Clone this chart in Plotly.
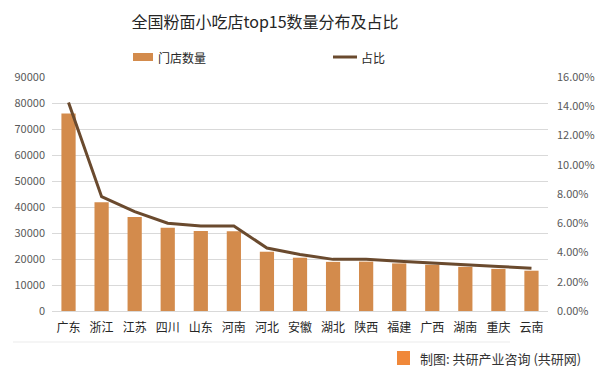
import plotly.graph_objects as go

categories = ["广东", "浙江", "江苏", "四川", "山东", "河南", "河北", "安徽", "湖北", "陕西", "福建", "广西", "湖南", "重庆", "云南"]
store_counts = [76000, 41800, 36200, 32000, 30800, 30700, 22800, 20500, 18900, 19000, 18300, 17800, 17000, 16200, 15500]
share = [0.1425, 0.0782, 0.0679, 0.0600, 0.0581, 0.0581, 0.0431, 0.0387, 0.0353, 0.0353, 0.0340, 0.0330, 0.0317, 0.0305, 0.0292]
left_ticks = list(range(0, 90001, 10000))
right_ticks = [i / 100 for i in range(0, 17, 2)]

W, H = 602, 376
L, R, T, B = 52, 54, 77, 65
PW, PH = W - L - R, H - T - B


def px(x):
    return (x - L) / PW


def py(y):
    return (H - B - y) / PH


BAR_COLOR = "#D38B4C"
LINE_COLOR = "#6A4A2E"

fig = go.Figure()
fig.add_trace(go.Bar(
    x=categories, y=store_counts, name="门店数量",
    marker=dict(color=BAR_COLOR, line=dict(width=0)),
    yaxis="y", showlegend=False,
))
fig.add_trace(go.Scatter(
    x=categories, y=share, name="占比", mode="lines",
    line=dict(color=LINE_COLOR, width=3),
    yaxis="y2", showlegend=False,
))

fig.update_layout(
    width=W, height=H,
    margin=dict(l=L, r=R, t=T, b=B, pad=0, autoexpand=False),
    paper_bgcolor="white", plot_bgcolor="white",
    font=dict(family="Noto Sans CJK SC, Noto Sans, sans-serif", color="#595959", size=11),
    title=dict(text="全国粉面小吃店top15数量分布及占比", x=265 / W, xanchor="center",
               y=1 - 22 / H, yanchor="middle",
               font=dict(size=16, color="#262626")),
    bargap=0.57,
    showlegend=False,
    xaxis=dict(tickfont=dict(size=12, color="#262626"), showgrid=False,
               showline=True, linecolor="#D9D9D9", linewidth=1, ticks="",
               ticklabelstandoff=6),
    yaxis=dict(range=[0, 90000], tickvals=left_ticks, tickformat="d",
               showgrid=True, gridcolor="#D9D9D9", gridwidth=1, zeroline=False,
               showline=False, ticks="", tickfont=dict(size=11, color="#595959"),
               ticklabelstandoff=6),
    yaxis2=dict(range=[0, 0.16], tickvals=right_ticks, tickformat=".2%",
                overlaying="y", side="right", showgrid=False, zeroline=False,
                showline=False, ticks="", tickfont=dict(size=11, color="#595959"),
                ticklabelstandoff=8),
)

# manual legend
fig.add_shape(type="rect", xref="paper", yref="paper",
              x0=px(133), x1=px(153), y0=py(61), y1=py(53),
              fillcolor=BAR_COLOR, line=dict(width=0))
fig.add_annotation(text="门店数量", xref="paper", yref="paper",
                   x=px(156), xanchor="left", y=py(57), yanchor="middle",
                   showarrow=False, font=dict(size=12, color="#262626"))
fig.add_shape(type="line", xref="paper", yref="paper",
              x0=px(333), x1=px(357), y0=py(57), y1=py(57),
              line=dict(color=LINE_COLOR, width=3))
fig.add_annotation(text="占比", xref="paper", yref="paper",
                   x=px(359), xanchor="left", y=py(57), yanchor="middle",
                   showarrow=False, font=dict(size=12, color="#262626"))

# footer divider and source
fig.add_shape(type="line", xref="paper", yref="paper",
              x0=px(13), x1=px(510), y0=py(342), y1=py(342),
              line=dict(color="#EBEBEB", width=1))
fig.add_shape(type="rect", xref="paper", yref="paper",
              x0=px(397), x1=px(410), y0=py(365), y1=py(351),
              fillcolor="#F0883A", line=dict(width=0))
fig.add_annotation(text="制图: 共研产业咨询 (共研网)", xref="paper", yref="paper",
                   x=px(418), xanchor="left", y=py(358), yanchor="middle",
                   showarrow=False, font=dict(size=13, color="#333333"))

fig.write_html("out.html", config={"displayModeBar": False},
               post_script="document.body.style.margin='0';document.body.style.padding='0';")
